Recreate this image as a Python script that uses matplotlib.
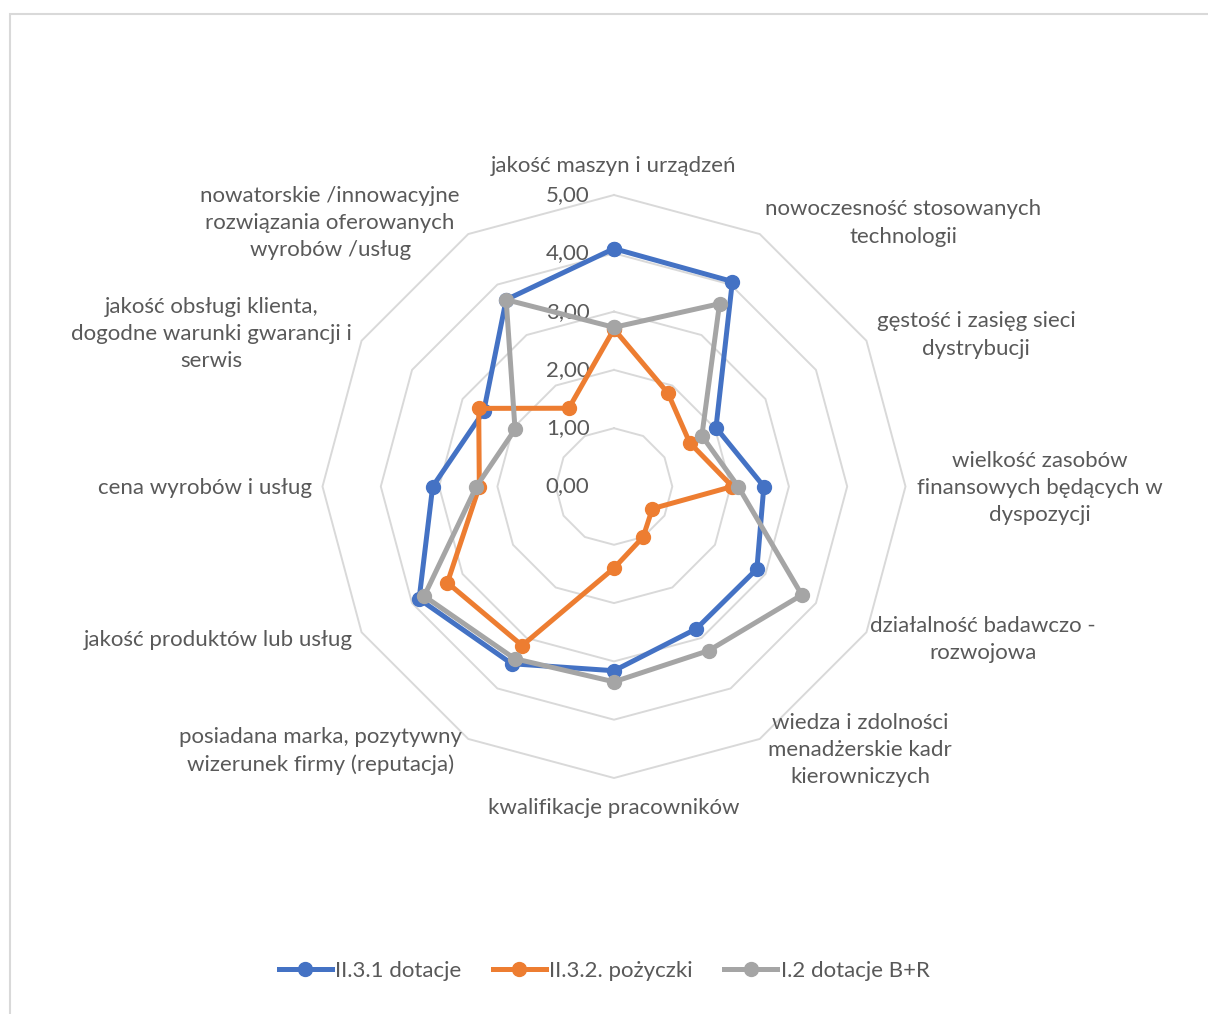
import numpy as np
import matplotlib
matplotlib.use("Agg")
import matplotlib.pyplot as plt
from matplotlib.patches import Rectangle

plt.rcParams['font.family'] = ['Lato', 'DejaVu Sans']

categories = [
    "jakość maszyn i urządzeń",
    "nowoczesność stosowanych\ntechnologii",
    "gęstość i zasięg sieci\ndystrybucji",
    "wielkość zasobów\nfinansowych będących w\ndyspozycji",
    "działalność badawczo -\nrozwojowa",
    "wiedza i zdolności\nmenadżerskie kadr\nkierowniczych",
    "kwalifikacje pracowników",
    "posiadana marka, pozytywny\nwizerunek firmy (reputacja)",
    "jakość produktów lub usług",
    "cena wyrobów i usług",
    "jakość obsługi klienta,\ndogodne warunki gwarancji i\nserwis",
    "nowatorskie /innowacyjne\nrozwiązania oferowanych\nwyrobów /usług",
]
series_names = ["II.3.1 dotacje", "II.3.2. pożyczki", "I.2 dotacje B+R"]
dotacje = [4.08, 4.06, 2.02, 2.57, 2.83, 2.82, 3.16, 3.51, 3.86, 3.11, 2.58, 3.70]
pozyczki = [2.70, 1.85, 1.50, 2.03, 0.76, 1.00, 1.40, 3.15, 3.30, 2.31, 2.68, 1.55]
dotacje_br = [2.73, 3.62, 1.74, 2.13, 3.72, 3.25, 3.35, 3.41, 3.76, 2.36, 1.96, 3.70]
ticks = [0, 1, 2, 3, 4, 5]

colors = ["#4472C4", "#ED7D31", "#A5A5A5"]
text_col = "#595959"
grid_col = "#D9D9D9"

# label centres (x, y) in radar units, clockwise from the top
label_pos = [(0, 5.50), (4.96, 4.52), (6.21, 2.60), (7.31, -0.03), (6.33, -2.63),
             (4.22, -4.52), (0, -5.51), (-5.03, -4.54), (-6.79, -2.63),
             (-7.02, -0.03), (-6.91, 2.62), (-4.87, 4.52)]

W, H = 1208, 1014
fig = plt.figure(figsize=(W / 100, H / 100), dpi=100)
ax = fig.add_axes([0, 0, 1, 1])
unit = 58.3
cx, cy = 614, 486.5
ax.set_xlim(-cx / unit, (W - cx) / unit)
ax.set_ylim(-(H - cy) / unit, cy / unit)
ax.axis("off")

n = len(categories)
ang = np.arange(n) * 2 * np.pi / n
sx, sy = np.sin(ang), np.cos(ang)

# polygon grid rings
for t in ticks[1:]:
    ax.plot(np.append(sx, sx[0]) * t, np.append(sy, sy[0]) * t,
            color=grid_col, lw=1.4, zorder=1)
for t in ticks:
    ax.text(-0.42, t, f"{t:.2f}".replace(".", ","), ha="right", va="center",
            fontsize=16, color=text_col)

for vals, name, c in zip([dotacje, pozyczki, dotacje_br], series_names, colors):
    v = np.array(vals)
    ax.plot(np.append(v * sx, v[0] * sx[0]), np.append(v * sy, v[0] * sy[0]),
            color=c, lw=3.6, marker="o", ms=10, label=name, zorder=3,
            solid_joinstyle="round")

for lab, (x, y) in zip(categories, label_pos):
    ax.text(x, y, lab, ha="center", va="center", multialignment="center",
            fontsize=16, color=text_col, linespacing=1.45)

fig.legend(loc="center", bbox_to_anchor=(0.5, 1 - 971 / H), ncol=3, frameon=False,
           fontsize=16, labelcolor=text_col, handlelength=2.4, handletextpad=0.15,
           columnspacing=1.4, markerscale=1.0)

fig.patches.append(Rectangle((9.5 / W, -0.1), 1.2, 1 - 13.5 / H + 0.1,
                             transform=fig.transFigure, fill=False,
                             edgecolor=grid_col, lw=1.5))

fig.savefig("out.png", dpi=100)
